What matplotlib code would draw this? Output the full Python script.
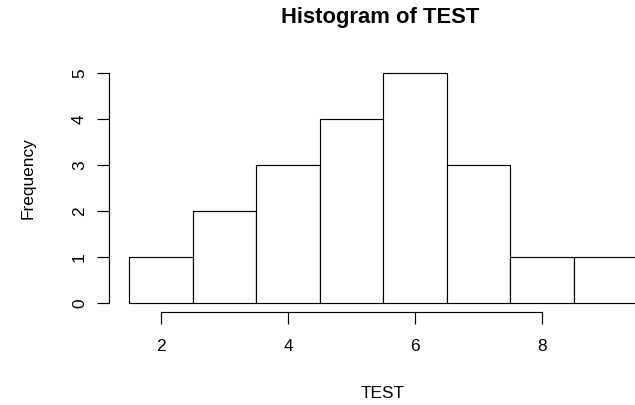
import numpy as np
import matplotlib.pyplot as plt

plt.rcParams['font.family'] = ['Liberation Sans', 'DejaVu Sans']

# histogram bins and counts for TEST
breaks = [1.5, 2.5, 3.5, 4.5, 5.5, 6.5, 7.5, 8.5, 9.5]
counts = [1, 2, 3, 4, 5, 3, 1, 1]
xticks = [2, 4, 6, 8]
yticks = [0, 1, 2, 3, 4, 5]

W, H = 635, 405
fig = plt.figure(figsize=(W / 100, H / 100), dpi=100)

# plot region, R style (4% padding around data range)
left, right, top, bottom = 108.9, 657.6, 63.8, 312.2
ax = fig.add_axes([left / W, 1 - bottom / H, (right - left) / W, (bottom - top) / H])

edges = np.array(breaks)
ax.bar(edges[:-1], counts, width=np.diff(edges), align='edge',
       facecolor='white', edgecolor='black', linewidth=0.85)

pad_x = 0.04 * (edges[-1] - edges[0])
ax.set_xlim(edges[0] - pad_x, edges[-1] + pad_x)
ax.set_ylim(-0.04 * max(counts), max(counts) * 1.04)

for s in ['top', 'right']:
    ax.spines[s].set_visible(False)
ax.spines['left'].set_bounds(yticks[0], yticks[-1])
ax.spines['bottom'].set_bounds(xticks[0], xticks[-1])
for s in ['left', 'bottom']:
    ax.spines[s].set_linewidth(0.85)

ax.set_xticks(xticks)
ax.set_yticks(yticks)
ax.tick_params(length=8.6, width=0.85, labelsize=12.4)
ax.tick_params(axis='x', pad=11.0)
ax.tick_params(axis='y', pad=7.2, labelrotation=90)
for lab in ax.get_yticklabels():
    lab.set_va('center')

fig.text(380.5 / W, 1 - 23 / H, 'Histogram of TEST', ha='center', va='baseline',
         fontsize=15.8, fontweight='bold')
fig.text(383 / W, 1 - 393 / H, 'TEST', ha='center', va='center', fontsize=12.4)
fig.text(28 / W, 1 - 178 / H, 'Frequency', ha='center', va='center',
         rotation=90, fontsize=12.4)

fig.savefig('out.png', dpi=100)
